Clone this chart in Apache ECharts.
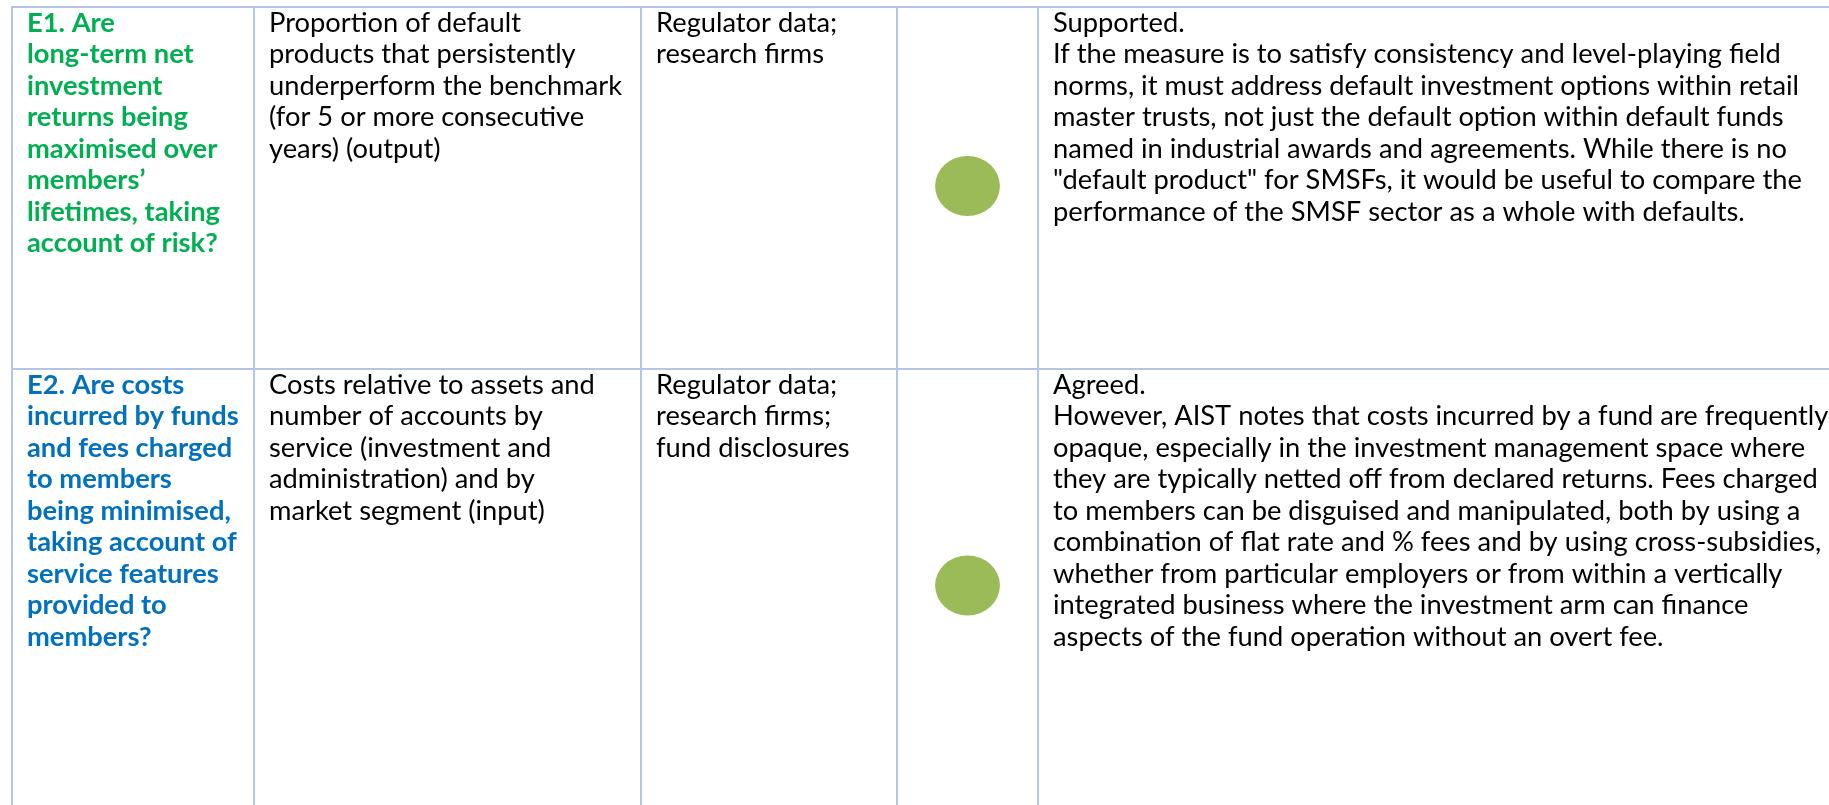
<!DOCTYPE html>
<html>
<head>
<meta charset="utf-8">
<script src="https://cdn.jsdelivr.net/npm/echarts@6/dist/echarts.min.js"></script>
<style>
html,body{margin:0;padding:0;background:#fff;}
#chart{width:1829px;height:805px;}
</style>
</head>
<body>
<div id="chart"></div>
<script>
// ---- table content ----
const questions = [
  'E1. Are\nlong-term net\ninvestment\nreturns being\nmaximised over\nmembers’\nlifetimes, taking\naccount of risk?',
  'E2. Are costs\nincurred by funds\nand fees charged\nto members\nbeing minimised,\ntaking account of\nservice features\nprovided to\nmembers?'
];
const indicators = [
  'Proportion of default\nproducts that persistently\nunderperform the benchmark\n(for 5 or more consecutive\nyears) (output)',
  'Costs relative to assets and\nnumber of accounts by\nservice (investment and\nadministration) and by\nmarket segment (input)'
];
const sources = [
  'Regulator data;\nresearch firms',
  'Regulator data;\nresearch firms;\nfund disclosures'
];
const ratings = ['green', 'green'];
const comments = [
  'Supported.\nIf the measure is to satisfy consistency and level-playing field\nnorms, it must address default investment options within retail\nmaster trusts, not just the default option within default funds\nnamed in industrial awards and agreements. While there is no\n"default product" for SMSFs, it would be useful to compare the\nperformance of the SMSF sector as a whole with defaults.',
  'Agreed.\nHowever, AIST notes that costs incurred by a fund are frequently\nopaque, especially in the investment management space where\nthey are typically netted off from declared returns. Fees charged\nto members can be disguised and manipulated, both by using a\ncombination of flat rate and % fees and by using cross-subsidies,\nwhether from particular employers or from within a vertically\nintegrated business where the investment arm can finance\naspects of the fund operation without an overt fee.'
];

// ---- layout (positions / styles) ----
const layout = {
  colEdges: [12, 254, 641, 897, 1038, 1860],
  rowEdges: [7, 369, 806],
  padX: 15,
  padTop: 0,
  lineHeight: 31.5,
  circleR: 30,
  circleScaleX: 1.08,
  circleDy: -2
};
const styles = {
  border: '#B4C6E7',
  text: '#000000',
  questionColors: ['#00B050', '#0070C0'],
  ratingColors: { green: '#9BBB59' },
  family: 'Lato, "Open Sans", sans-serif'
};

// fit font size so the longest comment line matches the reference width
const cv = document.createElement('canvas').getContext('2d');
cv.font = '100px Lato';
const refW = cv.measureText('they are typically netted off from declared returns. Fees charged').width;
const fontSize = Math.round(765 / refW * 100 * 10) / 10;

const columns = [questions, indicators, sources, ratings, comments];
const cells = [];
for (let r = 0; r < questions.length; r++) {
  for (let c = 0; c < columns.length; c++) cells.push([c, r]);
}

const chart = echarts.init(document.getElementById('chart'), null, { renderer: 'canvas' });
chart.setOption({
  animation: false,
  backgroundColor: '#ffffff',
  grid: { left: 0, right: 0, top: 0, bottom: 0 },
  xAxis: { type: 'value', min: 0, max: 1829, show: false },
  yAxis: { type: 'value', min: 0, max: 805, inverse: true, show: false },
  series: [{
    type: 'custom',
    clip: false,
    data: cells,
    renderItem: function (params, api) {
      const c = api.value(0), r = api.value(1);
      const p0 = api.coord([layout.colEdges[c], layout.rowEdges[r]]);
      const p1 = api.coord([layout.colEdges[c + 1], layout.rowEdges[r + 1]]);
      const children = [{
        type: 'rect',
        shape: { x: p0[0], y: p0[1], width: p1[0] - p0[0], height: p1[1] - p0[1] },
        style: { fill: null, stroke: styles.border, lineWidth: 2 }
      }];
      if (c === 3) {
        const cx = (p0[0] + p1[0]) / 2, cy = (p0[1] + p1[1]) / 2 + layout.circleDy;
        children.push({
          type: 'circle',
          shape: { cx: cx, cy: cy, r: layout.circleR },
          originX: cx, originY: cy,
          scaleX: layout.circleScaleX,
          style: { fill: styles.ratingColors[ratings[r]] }
        });
      } else {
        children.push({
          type: 'text',
          style: {
            text: columns[c][r],
            x: p0[0] + layout.padX,
            y: p0[1] + layout.padTop,
            fontFamily: styles.family,
            fontSize: fontSize,
            fontWeight: c === 0 ? 'bold' : 'normal',
            lineHeight: layout.lineHeight,
            fill: c === 0 ? styles.questionColors[r] : styles.text,
            align: 'left',
            verticalAlign: 'top'
          }
        });
      }
      return { type: 'group', children: children };
    }
  }]
});
</script>
</body>
</html>
